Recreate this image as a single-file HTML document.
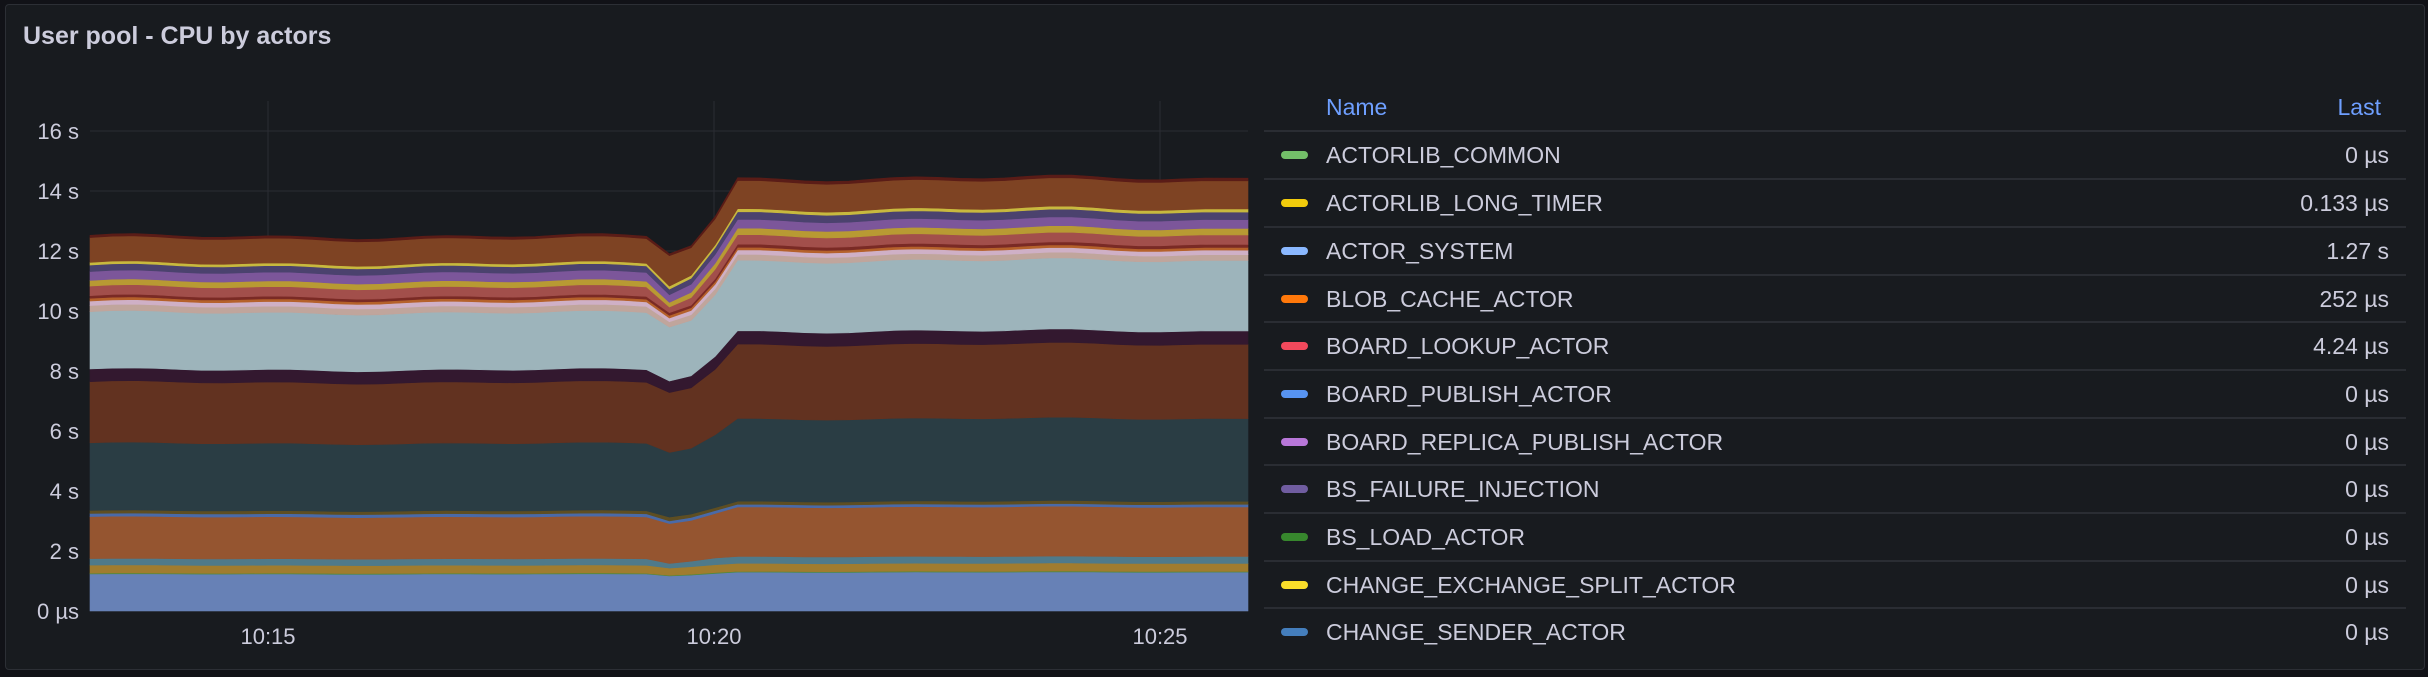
<!DOCTYPE html>
<html><head><meta charset="utf-8"><style>
html,body{margin:0;padding:0;background:#111217;width:2428px;height:677px;overflow:hidden;font-family:"Liberation Sans",sans-serif;}
#panel{position:absolute;left:5px;top:4px;width:2420px;height:666px;background:#181b1f;border:1px solid #2c2f35;border-radius:4px;box-sizing:border-box;}
#title{position:absolute;left:23px;top:22px;font-size:25px;font-weight:bold;color:#ccccdc;}
.leg{position:absolute;color:#ccccdc;font-size:23px;}
</style></head><body>
<div id="panel"></div>
<div id="title">User pool - CPU by actors</div>
<svg id="chart" width="2428" height="677" style="position:absolute;left:0;top:0"></svg>
<div id="legend"></div>
<script>
var svg=document.getElementById('chart');
var NS='http://www.w3.org/2000/svg';
function el(t,a,txt){var e=document.createElementNS(NS,t);for(var k in a)e.setAttribute(k,a[k]);if(txt)e.textContent=txt;svg.appendChild(e);return e;}
var X0=90,X1=1248,Y0=611,PX=30;
for(var i=0;i<=8;i++){var y=Y0-i*60;el('line',{x1:X0,x2:X1,y1:y,y2:y,stroke:'#2a2d33','stroke-width':1});
el('text',{x:79,y:y+8,'text-anchor':'end','font-size':22,fill:'#ccccdc','font-family':'Liberation Sans'},i==0?'0 µs':(i*2)+' s');}
[[268,'10:15'],[714,'10:20'],[1160,'10:25']].forEach(function(p){el('line',{x1:p[0],x2:p[0],y1:101,y2:611,stroke:'#2a2d33','stroke-width':1});
el('text',{x:p[0],y:644,'text-anchor':'middle','font-size':22,fill:'#ccccdc','font-family':'Liberation Sans'},p[1]);});
var L=[
['#6781b6',1298,1303,1293],['#4e8a3e',1296,1301,1291],['#a07c2f',1275,1282,1270],['#4f7a8a',1258,1270,1252],
['#955530',1148,1165,1122],['#4a6aa8',1140,1158,1115],['#5e4e22',1132,1148,1107],['#2a3d44',955,978,890],
['#623220',795,820,695],['#33182f',762,790,660],['#9db4bb',612,648,475],['#c0a59c',596,634,460],['#cfb0c6',584,624,448],
['#b5612b',577,617,441],['#7a2a25',570,610,433],['#a24f4b',545,595,408],['#b89a33',530,583,391],['#7c569a',507,563,368],
['#4b426e',490,548,348],['#c8b93e',483,540,340],['#7e4323',418,460,266],['#5a1c17',412,455,259]];
function sec(z){return (1395-z)/78.75;}
var xs=[],mode=[];
for(var x=112;x<=805;x+=27.7){xs.push(x);mode.push(0);}
xs.push(833);mode.push(-1);xs.push(860);mode.push(-0.5);xs.push(890);mode.push(0.35);
for(var x=918;x<=1553;x+=27.7){xs.push(x);mode.push(1);}
xs[xs.length-1]=1553;
var noise=xs.map(function(x,i){return 1+0.004*Math.sin(i*0.9)+0.004*Math.sin(i*0.31+1);});
function val(l,i){var m=mode[i],v;
 if(m==-1)v=sec(l[2]);else if(m==-0.5)v=(sec(l[1])+sec(l[2]))/2;else v=sec(l[1])+(sec(l[3])-sec(l[1]))*m;
 return v*noise[i];}
var prev=xs.map(function(){return 0;});
L.forEach(function(l){var top=xs.map(function(x,i){return val(l,i);});
 var d='';xs.forEach(function(x,i){d+=(i?'L':'M')+(x*0.8036).toFixed(1)+','+(Y0-top[i]*PX).toFixed(1);});
 for(var i=xs.length-1;i>=0;i--)d+='L'+(xs[i]*0.8036).toFixed(1)+','+(Y0-prev[i]*PX).toFixed(1);
 el('path',{d:d+'Z',fill:l[0],stroke:l[0],'stroke-width':0.6});prev=top;});
var items=[['ACTORLIB_COMMON','0 µs','#73bf69'],['ACTORLIB_LONG_TIMER','0.133 µs','#f2cc0c'],['ACTOR_SYSTEM','1.27 s','#8ab8ff'],
['BLOB_CACHE_ACTOR','252 µs','#ff780a'],['BOARD_LOOKUP_ACTOR','4.24 µs','#f2495c'],['BOARD_PUBLISH_ACTOR','0 µs','#5794f2'],
['BOARD_REPLICA_PUBLISH_ACTOR','0 µs','#b877d9'],['BS_FAILURE_INJECTION','0 µs','#705da0'],['BS_LOAD_ACTOR','0 µs','#37872d'],
['CHANGE_EXCHANGE_SPLIT_ACTOR','0 µs','#fade2a'],['CHANGE_SENDER_ACTOR','0 µs','#447ebc']];
var h='<div class="leg" style="left:1326px;top:94px;color:#6e9fff">Name</div><div class="leg" style="right:47px;top:94px;color:#6e9fff">Last</div>';
for(var i=0;i<11;i++){var sy=131.4+i*47.7;
 h+='<div style="position:absolute;left:1264px;top:'+(sy-1)+'px;width:1142px;height:2px;background:#2a2d33"></div>';
 var cy=sy+24;
 h+='<div style="position:absolute;left:1281px;top:'+(cy-4)+'px;width:27px;height:8px;border-radius:4px;background:'+items[i][2]+'"></div>';
 h+='<div class="leg" style="left:1326px;top:'+(cy-13)+'px">'+items[i][0]+'</div>';
 h+='<div class="leg" style="right:39px;top:'+(cy-13)+'px">'+items[i][1]+'</div>';}
document.getElementById('legend').innerHTML=h;
</script>
</body></html>
